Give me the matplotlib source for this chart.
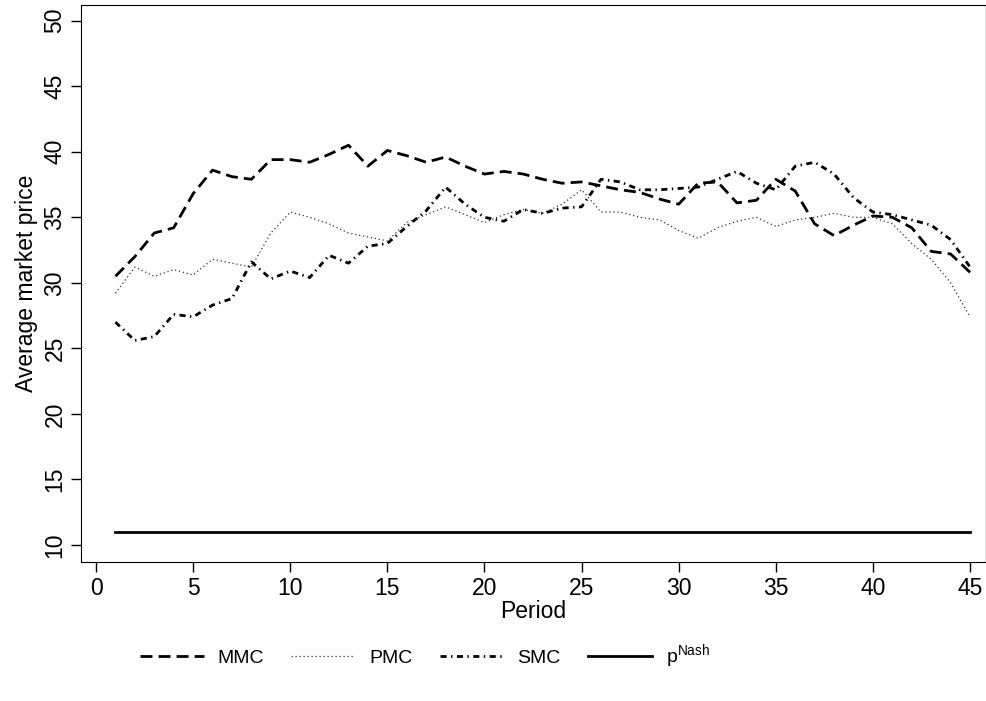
import numpy as np
import matplotlib.pyplot as plt

plt.rcParams['font.family'] = ['Liberation Sans', 'DejaVu Sans']
plt.rcParams['mathtext.fontset'] = 'custom'
plt.rcParams['mathtext.rm'] = 'Liberation Sans'

# data
period = np.arange(1, 46)
mmc = [30.5, 32.0, 33.8, 34.2, 36.8, 38.6, 38.1, 37.9, 39.4, 39.4,
       39.2, 39.8, 40.5, 38.9, 40.1, 39.7, 39.2, 39.6, 38.9, 38.3,
       38.5, 38.3, 37.9, 37.6, 37.7, 37.4, 37.1, 36.9, 36.4, 36.0,
       37.6, 37.7, 36.1, 36.3, 37.9, 37.0, 34.5, 33.6, 34.4, 35.1,
       35.0, 34.2, 32.4, 32.2, 30.8]
pmc = [29.2, 31.2, 30.5, 31.0, 30.6, 31.8, 31.5, 31.2, 33.8, 35.4,
       35.0, 34.5, 33.8, 33.5, 33.2, 34.6, 35.2, 35.8, 35.2, 34.6,
       35.2, 35.6, 35.3, 36.0, 37.1, 35.4, 35.4, 35.0, 34.8, 34.0,
       33.4, 34.2, 34.7, 35.0, 34.3, 34.8, 35.0, 35.3, 35.0, 35.0,
       34.5, 33.0, 31.8, 30.0, 27.4]
smc = [27.0, 25.6, 25.9, 27.6, 27.4, 28.3, 28.8, 31.6, 30.3, 30.9,
       30.4, 32.1, 31.5, 32.8, 33.0, 34.3, 35.5, 37.3, 36.0, 35.0,
       34.7, 35.6, 35.3, 35.7, 35.8, 37.9, 37.7, 37.1, 37.1, 37.2,
       37.3, 37.9, 38.5, 37.6, 37.1, 38.9, 39.2, 38.3, 36.5, 35.4,
       35.2, 34.8, 34.4, 33.3, 31.2]
p_nash = 11

fig = plt.figure(figsize=(9.86, 7.01), dpi=100)
ax = fig.add_axes([0.0822, 0.1983, 0.9168, 0.7946])

ax.plot(period, mmc, color='black', linewidth=2, dashes=(4.3, 2.2), label='MMC')
ax.plot(period, pmc, color='#333333', linewidth=0.9, dashes=(1, 2.2), label='PMC')
ax.plot(period, smc, color='black', linewidth=2, dashes=(2.2, 1.6, 0.5, 1.6), label='SMC')
ax.plot(period, [p_nash] * len(period), color='black', linewidth=2,
        label=r'p$^{\mathrm{Nash}}$')

ax.set_xlim(-0.77, 45.77)
ax.set_ylim(8.7, 51.2)
ax.set_xticks(np.arange(0, 46, 5))
ax.set_yticks(np.arange(10, 51, 5))
ax.tick_params(direction='out', length=7, width=1, labelsize=16.5)
for lab in ax.get_yticklabels():
    lab.set_rotation(90)
    lab.set_va('center')
ax.spines['right'].set_color('#dddddd')

ax.set_xlabel('Period', fontsize=16.5, labelpad=0)
ax.set_ylabel('Average market price', fontsize=16.5, labelpad=4)

fig.legend(loc='center left', bbox_to_anchor=(0.124, 0.063), ncol=4,
           frameon=False, fontsize=14, handlelength=3.3,
           handletextpad=0.7, columnspacing=1.4)

fig.savefig('out.png', dpi=100)
